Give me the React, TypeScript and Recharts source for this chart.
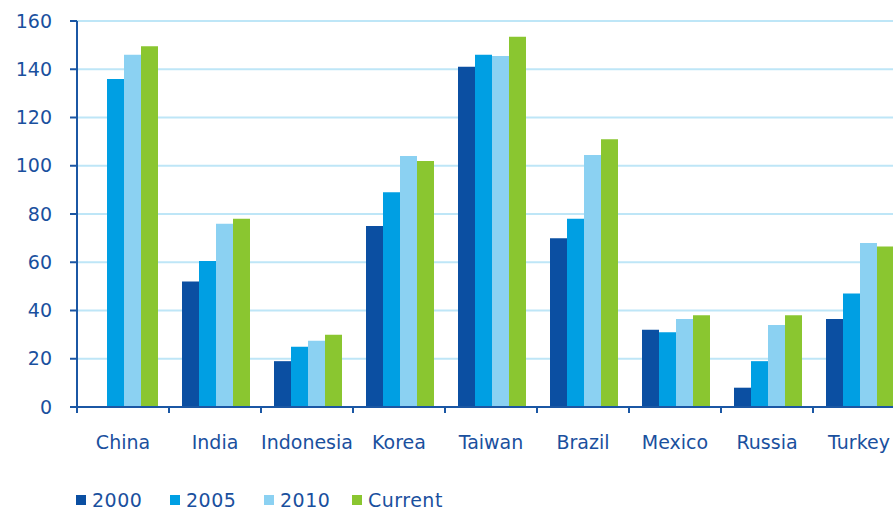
import React from "react";
import { BarChart, Bar, XAxis, YAxis, CartesianGrid } from "recharts";

const countries = ["China", "India", "Indonesia", "Korea", "Taiwan", "Brazil", "Mexico", "Russia", "Turkey"];
const v2000 = [null, 52, 19, 75, 141, 70, 32, 8, 36.5];
const v2005 = [136, 60.5, 25, 89, 146, 78, 31, 19, 47];
const v2010 = [146, 76, 27.5, 104, 145.5, 104.5, 36.5, 34, 68];
const vCurrent = [149.5, 78, 30, 102, 153.5, 111, 38, 38, 66.5];
const yTicks = [0, 20, 40, 60, 80, 100, 120, 140, 160];

const seriesNames = ["2000", "2005", "2010", "Current"];
const seriesKeys = ["y2000", "y2005", "y2010", "current"];
const seriesColors = ["#0B4FA2", "#009FE3", "#8BD1F2", "#8AC630"];

const data = countries.map((name, i) => ({
  name,
  y2000: v2000[i],
  y2005: v2005[i],
  y2010: v2010[i],
  current: vCurrent[i],
}));

const AXIS = "#1B57A4";
const TEXT = "#1A509E";
const GRID = "#BEE6F7";
const FONT = "'DejaVu Sans', sans-serif";

const CHART_W = 905;
const CHART_H = 510;
const LEFT = 77;
const HALF_BAND = (CHART_W - LEFT) / countries.length / 2;

// Category label under each group, with the tick mark drawn on the group's left boundary.
const CategoryTick = (props: any) => {
  const { x, y, payload } = props;
  return (
    <g>
      <line x1={x - HALF_BAND} x2={x - HALF_BAND} y1={y} y2={y + 6} stroke={AXIS} strokeWidth={2} />
      <text x={x} y={y + 42} textAnchor="middle" fill={TEXT} fontSize={19} fontFamily={FONT}>
        {payload.value}
      </text>
    </g>
  );
};

const SeriesLegend = () => (
  <div
    style={{
      position: "absolute",
      left: 76,
      top: 490,
      height: 20,
      display: "flex",
      fontFamily: FONT,
      fontSize: 19,
      color: TEXT,
      lineHeight: "20px",
    }}
  >
    {seriesNames.map((n, i) => (
      <div key={n} style={{ display: "flex", alignItems: "center", width: i === 2 ? 88 : 94 }}>
        <span
          style={{
            display: "inline-block",
            width: 10,
            height: 10,
            background: seriesColors[i],
            marginRight: 6,
          }}
        />
        <span style={{ letterSpacing: 0.5 }}>{n}</span>
      </div>
    ))}
  </div>
);

export default function App() {
  return (
    <div
      style={{
        position: "fixed",
        left: 0,
        top: 0,
        width: 893,
        height: 510,
        overflow: "hidden",
        background: "#fff",
      }}
    >
      <BarChart
        width={CHART_W}
        height={CHART_H}
        data={data}
        margin={{ top: 21, right: 0, bottom: 62, left: 0 }}
        barCategoryGap={13}
        barGap={0}
      >
        <CartesianGrid horizontal vertical={false} stroke={GRID} strokeWidth={2} />
        <XAxis
          dataKey="name"
          height={41}
          axisLine={{ stroke: AXIS, strokeWidth: 2 }}
          tickLine={false}
          tickSize={0}
          tickMargin={0}
          tick={<CategoryTick />}
          interval={0}
        />
        <YAxis
          width={LEFT}
          domain={[0, 160]}
          ticks={yTicks}
          interval={0}
          axisLine={{ stroke: AXIS, strokeWidth: 2 }}
          tickLine={{ stroke: AXIS, strokeWidth: 2 }}
          tickSize={7}
          tickMargin={18}
          tick={{ fill: TEXT, fontSize: 19, fontFamily: FONT }}
        />
        {seriesKeys.map((k, i) => (
          <Bar key={k} dataKey={k} name={seriesNames[i]} fill={seriesColors[i]} isAnimationActive={false} />
        ))}
      </BarChart>
      <SeriesLegend />
    </div>
  );
}
